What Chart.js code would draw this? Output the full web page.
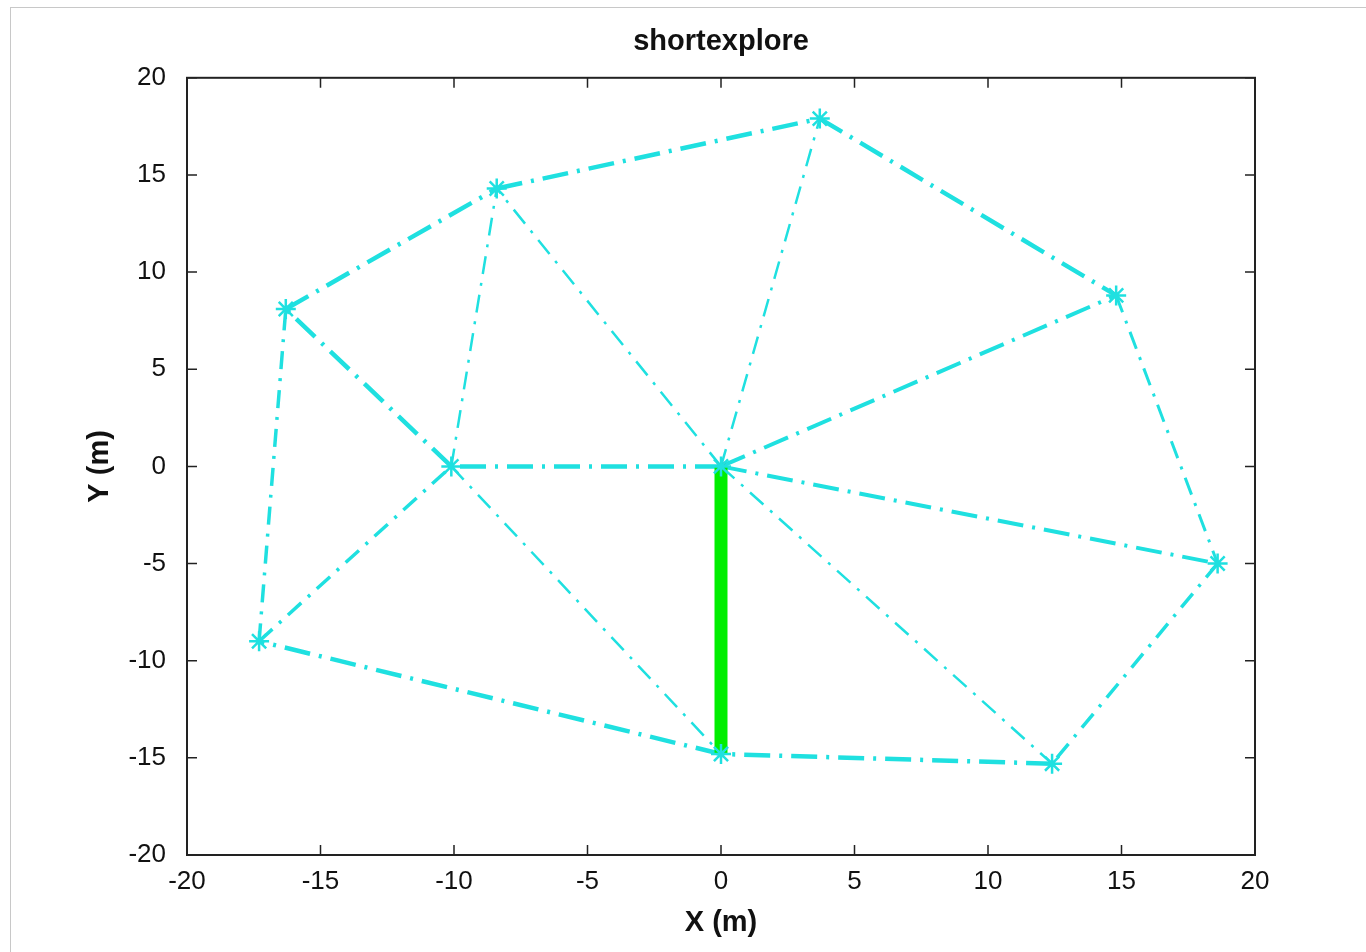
<!DOCTYPE html>
<html>
<head>
<meta charset="utf-8">
<title>shortexplore</title>
<script src="https://cdn.jsdelivr.net/npm/chart.js@4.4.0/dist/chart.umd.min.js"></script>
<style>
  html, body { margin: 0; padding: 0; background: #fff; }
  canvas { display: block; }
</style>
</head>
<body>
<canvas id="exploreChart" width="1366" height="952"></canvas>
<script>
// node coordinates (m)
const nodeX = [0, -10.1, -8.4, 3.7, 14.8, 18.6, 12.4, 0, -17.3, -16.3];
const nodeY = [0, 0, 14.3, 17.9, 8.8, -5.0, -15.3, -14.8, -9.0, 8.1];

// edges between nodes (index pairs)
const edgeFrom = [0, 1, 9, 2, 3, 4, 5, 6, 7, 8, 8, 1, 1, 0, 0, 0, 0, 0];
const edgeTo   = [1, 9, 2, 3, 4, 5, 6, 7, 8, 9, 1, 2, 7, 2, 3, 4, 5, 6];

// path actually driven (green)
const pathX = [0, 0];
const pathY = [0, -14.8];

// axis ticks
const xTicks = [-20, -15, -10, -5, 0, 5, 10, 15, 20];
const yTicks = [-20, -15, -10, -5, 0, 5, 10, 15, 20];

// line weight per edge (style only)
const edgeWidth = [4.5, 4.5, 4.5, 4.5, 4.5, 3, 3.5, 4.5, 4.5, 3.5, 3.5, 2.5, 2.5, 2.5, 2.5, 4, 4, 2.5];

const cyan = '#1fe0e0';

const datasets = [];
edgeFrom.forEach((a, i) => {
    const b = edgeTo[i];
    const w = edgeWidth[i];
    datasets.push({
        data: [{x: nodeX[a], y: nodeY[a]}, {x: nodeX[b], y: nodeY[b]}],
        showLine: true,
        borderColor: cyan,
        borderWidth: w,
        borderDash: w > 3.8 ? [26, 9, 3, 9] : [18, 9, 3, 9],
        pointRadius: 0,
        order: 2
    });
});

// green path
datasets.push({
    data: pathX.map((x, i) => ({x: x, y: pathY[i]})),
    showLine: true,
    borderColor: '#00ee00',
    borderWidth: 13,
    borderCapStyle: 'butt',
    pointRadius: 0,
    order: 1
});

// vertex markers
datasets.push({
    data: nodeX.map((x, i) => ({x: x, y: nodeY[i]})),
    showLine: false,
    pointStyle: 'star',
    pointRadius: 10,
    pointBorderColor: cyan,
    pointBorderWidth: 2.5,
    pointBackgroundColor: cyan,
    order: 0
});

// start marker
datasets.push({
    data: [{x: pathX[0], y: pathY[0]}],
    showLine: false,
    pointStyle: 'crossRot',
    pointRadius: 6,
    pointBorderColor: '#8a3030',
    pointBorderWidth: 2,
    order: 0
});

// box round the axes and inward tick marks, MATLAB style
const boxPlugin = {
    id: 'boxPlugin',
    afterDraw(chart) {
        const ctx = chart.ctx;
        const a = chart.chartArea;
        const xs = chart.scales.x;
        const ys = chart.scales.y;
        ctx.save();
        ctx.strokeStyle = '#222';
        ctx.lineWidth = 1.5;
        xTicks.forEach(v => {
            const px = xs.getPixelForValue(v);
            ctx.beginPath();
            ctx.moveTo(px, a.bottom); ctx.lineTo(px, a.bottom - 10);
            ctx.moveTo(px, a.top); ctx.lineTo(px, a.top + 10);
            ctx.stroke();
        });
        yTicks.forEach(v => {
            const py = ys.getPixelForValue(v);
            ctx.beginPath();
            ctx.moveTo(a.left, py); ctx.lineTo(a.left + 10, py);
            ctx.moveTo(a.right, py); ctx.lineTo(a.right - 10, py);
            ctx.stroke();
        });
        ctx.lineWidth = 2;
        ctx.strokeRect(a.left, a.top, a.right - a.left, a.bottom - a.top);
        // figure frame
        ctx.strokeStyle = '#c8c8c8';
        ctx.lineWidth = 1;
        ctx.strokeRect(10.5, 7.5, 1360, 945);
        ctx.restore();
    }
};

const tickFont = {family: '"Liberation Sans", Arial, sans-serif', size: 26};
const labelFont = {family: '"Liberation Sans", Arial, sans-serif', size: 29, weight: 'bold'};

new Chart(document.getElementById('exploreChart'), {
    type: 'scatter',
    data: {datasets: datasets},
    options: {
        responsive: false,
        animation: false,
        layout: {padding: {left: 0, right: 111, top: 0, bottom: 0}},
        scales: {
            x: {
                type: 'linear',
                min: -20,
                max: 20,
                afterBuildTicks: scale => { scale.ticks = xTicks.map(v => ({value: v})); },
                afterFit: scale => { scale.height = 97; },
                ticks: {font: tickFont, color: '#111', padding: 3, maxRotation: 0},
                grid: {display: false},
                border: {display: false},
                title: {display: true, text: 'X (m)', font: labelFont, color: '#111', padding: {top: 0, bottom: 12}}
            },
            y: {
                type: 'linear',
                min: -20,
                max: 20,
                afterBuildTicks: scale => { scale.ticks = yTicks.map(v => ({value: v})); },
                afterFit: scale => { scale.width = 187; },
                ticks: {font: tickFont, color: '#111', padding: 13},
                grid: {display: false},
                border: {display: false},
                title: {display: true, text: 'Y (m)', font: labelFont, color: '#111', padding: {top: 83, bottom: 0}}
            }
        },
        plugins: {
            legend: {display: false},
            tooltip: {enabled: false},
            title: {
                display: true,
                fullSize: false,
                text: 'shortexplore',
                font: labelFont,
                color: '#111',
                padding: {top: 25, bottom: 18}
            }
        }
    },
    plugins: [boxPlugin]
});
</script>
</body>
</html>
